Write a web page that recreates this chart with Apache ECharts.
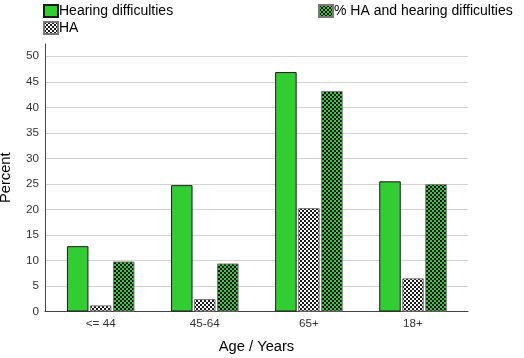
<!DOCTYPE html>
<html>
<head>
<meta charset="utf-8">
<script src="https://cdn.jsdelivr.net/npm/echarts@6/dist/echarts.min.js"></script>
<style>
html,body{margin:0;padding:0;background:#fff;}
#chart{width:524px;height:358px;}
</style>
</head>
<body>
<div id="chart"></div>
<script>
const categories = ['<= 44', '45-64', '65+', '18+'];
const seriesNames = ['Hearing difficulties', 'HA', '% HA and hearing difficulties'];
const hearingDifficulties = [12.8, 24.75, 46.9, 25.5];
const ha = [1.2, 2.45, 20.25, 6.5];
const haAndHearing = [9.8, 9.4, 43.2, 24.95];

function checker(c1, c2, size) {
  const cv = document.createElement('canvas');
  cv.width = size * 2; cv.height = size * 2;
  const ctx = cv.getContext('2d');
  ctx.fillStyle = c1; ctx.fillRect(0, 0, size * 2, size * 2);
  ctx.fillStyle = c2;
  ctx.fillRect(0, 0, size, size);
  ctx.fillRect(size, size, size, size);
  return cv;
}
const haPattern = { image: checker('#ffffff', '#1a1a1a', 2), repeat: 'repeat' };
const dkPattern = { image: checker('#32cd32', '#0a0a0a', 2), repeat: 'repeat' };

const FONT = 'Liberation Sans';
const yMax = 52.4;
const wideBounds = { left: -80, top: -80, right: -80, bottom: -80 };
const legendText = { fontFamily: FONT, fontSize: 14, color: '#000', lineHeight: 14, padding: [0, 0, 0, -4] };

const chart = echarts.init(document.getElementById('chart'), null, { renderer: 'canvas' });
chart.setOption({
  animation: false,
  backgroundColor: '#ffffff',
  textStyle: { fontFamily: FONT },
  legend: [
    {
      left: 38, top: -1, orient: 'vertical', itemGap: 3,
      itemWidth: 14, itemHeight: 12, icon: 'rect',
      data: [seriesNames[0], seriesNames[1]],
      textStyle: legendText
    },
    {
      left: 313, top: -1, orient: 'vertical',
      itemWidth: 14, itemHeight: 12, icon: 'rect',
      data: [seriesNames[2]],
      textStyle: legendText
    }
  ],
  grid: [
    { left: 45, right: 56, top: 44, bottom: 46.5, outerBounds: wideBounds },
    { left: 48.65, right: 58.95, top: 44, bottom: 46.5, outerBounds: wideBounds }
  ],
  xAxis: [
    {
      gridIndex: 0, type: 'category', data: categories,
      axisLine: { show: true, lineStyle: { color: '#444', width: 1 } },
      axisTick: { show: false }, axisLabel: { show: false },
      name: 'Age / Years', nameLocation: 'middle', nameGap: 28,
      nameTextStyle: { fontFamily: FONT, fontSize: 14.7, color: '#000' }
    },
    {
      gridIndex: 1, type: 'category', data: categories,
      axisLine: { show: false }, axisTick: { show: false },
      axisLabel: { fontFamily: FONT, fontSize: 11.7, color: '#333', margin: 6 }
    }
  ],
  yAxis: [
    {
      gridIndex: 0, type: 'value', min: 0, max: yMax, interval: 5,
      axisLine: { show: true, lineStyle: { color: '#444', width: 1 } },
      axisTick: { show: false },
      axisLabel: { fontFamily: FONT, fontSize: 11.7, color: '#333', margin: 6, showMaxLabel: false },
      splitLine: { show: true, showMaxLine: false, lineStyle: { color: '#d3d3d3', width: 1 } },
      name: 'Percent', nameLocation: 'middle', nameGap: 32, nameRotate: 90,
      nameTextStyle: { fontFamily: FONT, fontSize: 14.7, color: '#000' }
    },
    {
      gridIndex: 1, type: 'value', min: 0, max: yMax, interval: 5,
      show: false, splitLine: { show: false }
    }
  ],
  series: [
    {
      name: seriesNames[0], type: 'bar', xAxisIndex: 1, yAxisIndex: 1,
      data: hearingDifficulties, barWidth: 21.5, barGap: '7%',
      itemStyle: { color: '#32cd32', borderColor: '#1a1a1a', borderWidth: 1 }
    },
    {
      name: seriesNames[1], type: 'bar', xAxisIndex: 1, yAxisIndex: 1,
      data: ha, barWidth: 21.5, barGap: '7%',
      itemStyle: { color: haPattern, borderColor: '#777', borderWidth: 1 }
    },
    {
      name: seriesNames[2], type: 'bar', xAxisIndex: 1, yAxisIndex: 1,
      data: haAndHearing, barWidth: 21.5, barGap: '7%',
      itemStyle: { color: dkPattern, borderColor: '#777', borderWidth: 1 }
    }
  ]
});
</script>
</body>
</html>
